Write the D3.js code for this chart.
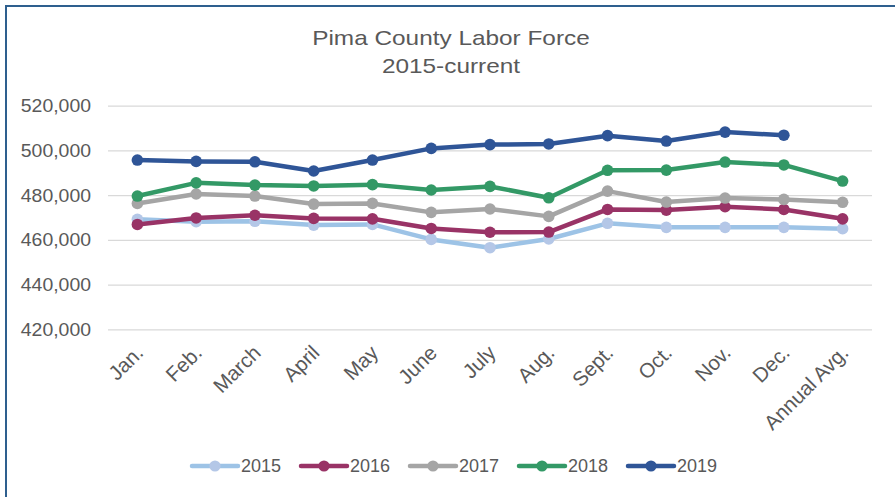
<!DOCTYPE html>
<html lang="en">
<head>
    <meta charset="UTF-8">
    <title>Pima County Labor Force</title>
    <script src="https://cdn.jsdelivr.net/npm/d3@7"></script>
</head>
<body>
<style>
    body {
        margin: 0;
        background-color: white;
    }

    svg {
        display: block;
        font-family: "Liberation Sans", Arial, sans-serif;
    }

    .grid line {
        stroke: #d9d9d9;
        stroke-width: 1.3px;
    }

    .grid text {
        fill: #595959;
        font-size: 18.5px;
    }

    .xlab {
        fill: #595959;
        font-size: 20.5px;
    }

    .legend text {
        fill: #595959;
        font-size: 18px;
    }
</style>

<svg width="895" height="497"></svg>

<script>
    // values
    var months = ["Jan.", "Feb.", "March", "April", "May", "June", "July", "Aug.", "Sept.", "Oct.", "Nov.", "Dec.", "Annual Avg."];
    var years = ["2015", "2016", "2017", "2018", "2019"];
    var lf2015 = [469200, 468100, 468300, 466600, 466900, 460200, 456500, 460400, 467400, 465600, 465600, 465600, 465000];
    var lf2016 = [466900, 469800, 471000, 469600, 469400, 465100, 463400, 463500, 473600, 473300, 474800, 473600, 469400];
    var lf2017 = [476300, 480500, 479600, 476000, 476300, 472300, 473800, 470500, 481800, 476900, 478700, 478100, 476800];
    var lf2018 = [479600, 485500, 484500, 484100, 484700, 482300, 483900, 478800, 491100, 491200, 494800, 493500, 486300];
    var lf2019 = [495700, 495100, 494900, 490800, 495700, 500900, 502600, 502900, 506600, 504200, 508200, 506800, null];
    var yTicks = [420000, 440000, 460000, 480000, 500000, 520000];

    var lineColors = ["#9dc3e6", "#993366", "#a5a5a5", "#339966", "#2f5597"];
    var dotColors = ["#b4c7e7", "#993366", "#a5a5a5", "#339966", "#2f5597"];

    var series = [lf2015, lf2016, lf2017, lf2018, lf2019].map(function (v, i) {
        return {year: years[i], values: v, line: lineColors[i], dot: dotColors[i]};
    });

    // the picture is a little wider than tall, stretch these texts to fit
    function stretch(sel, k) {
        sel.each(function () {
            var w = this.getComputedTextLength();
            d3.select(this)
                .attr("textLength", w * k)
                .attr("lengthAdjust", "spacingAndGlyphs");
        });
    }

    var svg = d3.select("svg");

    // chart frame
    svg.append("rect")
        .attr("x", 6).attr("y", 6)
        .attr("width", 960).attr("height", 560)
        .attr("fill", "white")
        .attr("stroke", "#2e5f8e")
        .attr("stroke-width", 2);

    // title
    var title = svg.append("text")
        .attr("text-anchor", "middle")
        .attr("fill", "#595959")
        .style("font-size", "21px");
    title.append("tspan").attr("x", 451).attr("y", 45).text("Pima County Labor Force");
    title.append("tspan").attr("x", 451).attr("y", 73).text("2015-current");
    stretch(title.selectAll("tspan"), 1.16);

    var left = 108, right = 872;
    var x = d3.scalePoint().domain(months).range([left, right]).padding(0.5);
    var y = d3.scaleLinear().domain([420000, 520000]).range([329.3, 105.7]);

    // gridlines + y labels
    var yAxis = d3.axisLeft(y)
        .tickValues(yTicks)
        .tickSize(-(right - left))
        .tickPadding(17)
        .tickFormat(d3.format(","));
    var g = svg.append("g")
        .attr("class", "grid")
        .attr("transform", "translate(" + left + ",0)")
        .call(yAxis);
    g.select(".domain").remove();
    g.selectAll("text").attr("font-family", null).attr("font-size", null);
    stretch(g.selectAll("text"), 1.05);

    // x labels
    svg.selectAll(".xlab")
        .data(months)
        .enter()
        .append("text")
        .attr("class", "xlab")
        .attr("text-anchor", "end")
        .attr("dy", "0.35em")
        .attr("transform", function (d) {
            return "translate(" + (x(d) + 2) + ",349) rotate(-45)";
        })
        .text(function (d) {
            return d;
        });

    // lines and markers
    var line = d3.line()
        .defined(function (d) { return d != null; })
        .x(function (d, i) { return x(months[i]); })
        .y(function (d) { return y(d); });

    var sg = svg.selectAll(".series")
        .data(series)
        .enter()
        .append("g")
        .attr("class", "series");
    sg.append("path")
        .attr("fill", "none")
        .attr("stroke", function (d) { return d.line; })
        .attr("stroke-width", 4.5)
        .attr("stroke-linejoin", "round")
        .attr("stroke-linecap", "round")
        .attr("d", function (d) { return line(d.values); });
    sg.each(function (s) {
        d3.select(this).selectAll("circle")
            .data(s.values.map(function (v, i) { return {v: v, m: months[i]}; })
                .filter(function (d) { return d.v != null; }))
            .enter()
            .append("circle")
            .attr("cx", function (d) { return x(d.m); })
            .attr("cy", function (d) { return y(d.v); })
            .attr("r", 5.8)
            .attr("fill", s.dot);
    });

    // legend
    var lg = svg.selectAll(".legend")
        .data(series)
        .enter()
        .append("g")
        .attr("class", "legend")
        .attr("transform", function (d, i) {
            return "translate(" + (192 + 109 * i) + ",466)";
        });
    lg.append("line")
        .attr("x1", 0).attr("x2", 46)
        .attr("stroke", function (d) { return d.line; })
        .attr("stroke-width", 4.5)
        .attr("stroke-linecap", "round");
    lg.append("circle")
        .attr("cx", 23).attr("r", 5.6)
        .attr("fill", function (d) { return d.dot; });
    lg.append("text")
        .attr("x", 49)
        .attr("dy", "0.36em")
        .text(function (d) { return d.year; });
</script>
</body>
</html>
